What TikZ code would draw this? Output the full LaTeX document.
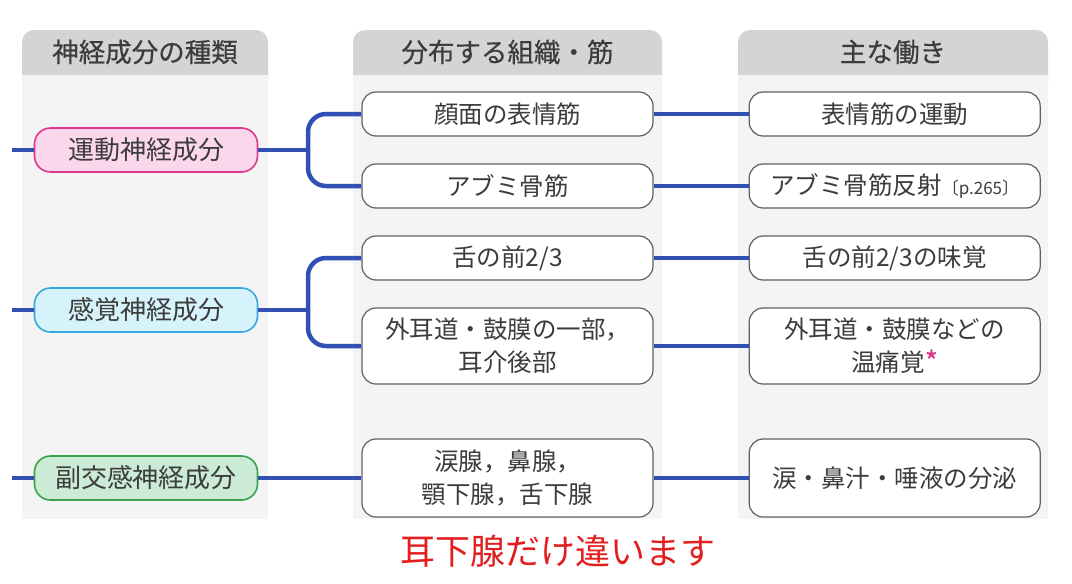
\documentclass[tikz,border=0pt]{standalone}
\usepackage{fontspec}
\setmainfont{Noto Sans CJK JP}
\newfontfamily\headfont[FakeBold=0.5]{Noto Sans CJK JP}
\usetikzlibrary{positioning}

\definecolor{linkblue}{RGB}{50,80,180}
\definecolor{textgray}{RGB}{60,60,60}
\definecolor{headfill}{RGB}{212,212,212}
\definecolor{panelfill}{RGB}{244,244,245}
\definecolor{pinkfill}{RGB}{251,215,236}
\definecolor{pinkline}{RGB}{222,56,140}
\definecolor{bluefill}{RGB}{214,243,251}
\definecolor{blueline}{RGB}{56,168,220}
\definecolor{greenfill}{RGB}{204,235,214}
\definecolor{greenline}{RGB}{58,163,74}
\definecolor{notered}{RGB}{226,30,30}

\begin{document}
\begin{tikzpicture}[
    x=1pt, y=-1pt,
    % Styles
    headtext/.style={ % column header
        text=textgray,
        font=\headfont\fontsize{26.5}{30}\selectfont
    },
    nerve/.style={ % nerve component (left column)
        rectangle,
        rounded corners=16pt,
        minimum width=223pt,
        minimum height=44pt,
        line width=1.6pt,
        text=textgray,
        font=\fontsize{26}{30}\selectfont
    },
    tissue/.style={ % tissue and function boxes
        rectangle,
        rounded corners=14pt,
        minimum width=291pt,
        minimum height=44pt,
        align=center,
        draw=gray!75!black,
        line width=1.2pt,
        fill=white,
        text=textgray,
        font=\fontsize{24.5}{33}\selectfont
    },
    link/.style={ % blue connector
        draw=linkblue,
        line width=4.5pt
    },
    linkc/.style={ % connector with rounded corners
        link,
        rounded corners=18pt
    }
]
    \useasboundingbox (0,0) rectangle (1072,584);

    % Column backgrounds
    \foreach \X/\L/\R/\T in {1/22/268/神経成分の種類, 2/353/662/分布する組織・筋, 3/738/1048/主な働き} {
        \fill[headfill, rounded corners=12pt] (\L,30) rectangle (\R,95);
        \fill[panelfill] (\L,75) rectangle (\R,519);
        \node[headtext] (head\X) at ({(\L+\R)/2},52) {\T};
    }

    % Nerve components
    \node[nerve, draw=pinkline, fill=pinkfill] (motor) at (146,150) {運動神経成分};
    \node[nerve, draw=blueline, fill=bluefill] (sense) at (146,310) {感覚神経成分};
    \node[nerve, draw=greenline, fill=greenfill] (para) at (146,478) {副交感神経成分};

    % Tissues and muscles
    \node[tissue] (face) at (507.5,114) {顔面の表情筋};
    \node[tissue] (stap) at (507.5,186) {アブミ骨筋};
    \node[tissue] (tongue) at (507.5,258) {舌の前2/3};
    \node[tissue, minimum height=76pt] (ear) at (507.5,346) {外耳道・鼓膜の一部，\\耳介後部};
    \node[tissue, minimum height=78pt] (gland) at (507.5,478) {涙腺，鼻腺，\\顎下腺，舌下腺};

    % Main functions
    \node[tissue, right=95pt of face] (faceR) {表情筋の運動};
    \node[tissue, right=95pt of stap] (stapR) {アブミ骨筋反射{\fontsize{17}{18}\selectfont〔p.265〕}};
    \node[tissue, right=95pt of tongue] (tongueR) {舌の前2/3の味覚};
    \node[tissue, minimum height=76pt, right=95pt of ear] (earR) {外耳道・鼓膜などの\\温痛覚{\color{pinkline}\headfont\fontsize{28}{30}\selectfont *}};
    \node[tissue, minimum height=78pt, right=95pt of gland] (glandR) {涙・鼻汁・唾液の分泌};

    % Incoming lines
    \foreach \N in {motor, sense, para} {
        \coordinate (\N in) at (12,0 |- \N.west);
        \draw[link] (\N in) -- (\N.west);
    }

    % Forks to tissues
    \coordinate (mfork) at (308,150);
    \coordinate (sfork) at (308,310);
    \draw[link] (motor.east) -- (mfork);
    \draw[linkc] (face.west) -| (mfork) |- (stap.west);
    \draw[link] (sense.east) -- (sfork);
    \draw[linkc] (tongue.west) -| (sfork) |- (ear.west);
    \draw[link] (para.east) -- (gland.west);

    % Tissues to functions
    \foreach \N in {face, stap, tongue, ear, gland} {
        \draw[link] (\N.east) -- (\N R.west);
    }

    % Note
    \node[text=notered, font=\fontsize{35}{38}\selectfont] (note) at (558,551) {耳下腺だけ違います};
\end{tikzpicture}
\end{document}
